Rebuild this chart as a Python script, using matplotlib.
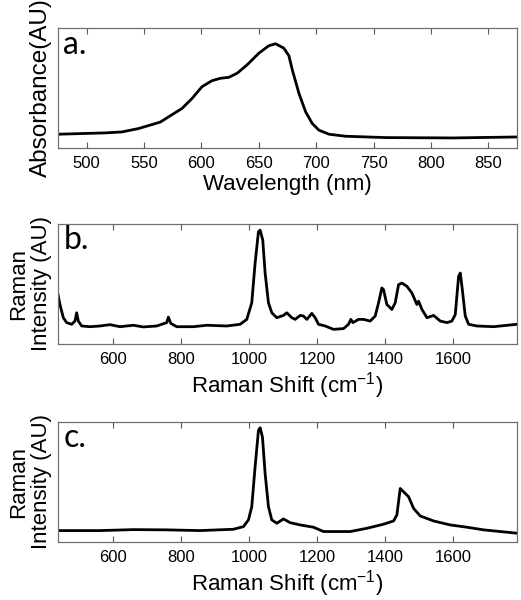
import matplotlib
matplotlib.use("Agg")
import matplotlib.pyplot as plt
import numpy as np

plt.rcParams['font.family'] = ['Liberation Sans', 'DejaVu Sans']
plt.rcParams['mathtext.fontset'] = 'custom'
plt.rcParams['mathtext.rm'] = 'Liberation Sans'
plt.rcParams['mathtext.it'] = 'Liberation Sans:italic'

# a. absorbance spectrum (AU)
wavelength = [475.0, 516.0, 530.6, 545.1, 564.1, 571.4, 583.1, 591.8, 600.5, 609.2,
              616.5, 623.8, 631.1, 639.8, 650.0, 658.7, 664.6, 671.8, 676.2, 679.2,
              685.0, 690.8, 696.6, 702.5, 711.2, 725.8, 760.7, 819.0, 875.0]
absorbance = [0.115, 0.126, 0.134, 0.162, 0.216, 0.260, 0.330, 0.413, 0.511, 0.561,
              0.581, 0.589, 0.623, 0.693, 0.790, 0.852, 0.869, 0.832, 0.770, 0.651,
              0.455, 0.302, 0.204, 0.148, 0.115, 0.098, 0.087, 0.084, 0.092]

# b. raman spectrum (AU)
shift_b = [439.4, 445.2, 455.0, 464.8, 479.5, 489.3, 494.2, 499.1, 508.9, 533.3,
           562.7, 592.1, 621.4, 660.6, 690.0, 729.1, 758.5, 763.4, 770.3, 787.9,
           836.8, 876.0, 934.7, 973.9, 993.5, 1008.1, 1017.9, 1027.7, 1032.6, 1040.4,
           1047.3, 1057.1, 1066.9, 1081.6, 1101.1, 1110.9, 1125.6, 1135.4, 1150.1, 1159.9,
           1169.7, 1184.4, 1194.2, 1204.0, 1223.5, 1248.0, 1277.4, 1292.1, 1298.9, 1304.8,
           1321.4, 1336.1, 1355.7, 1370.4, 1380.2, 1390.0, 1394.8, 1404.6, 1419.3, 1429.1,
           1438.9, 1448.7, 1463.4, 1478.1, 1492.8, 1497.7, 1507.5, 1522.2, 1541.8, 1561.3,
           1580.9, 1595.6, 1605.4, 1615.1, 1620.0, 1624.9, 1634.7, 1644.5, 1669.0, 1718.0,
           1737.6, 1786.5]
raman_b = [0.408, 0.325, 0.215, 0.174, 0.160, 0.187, 0.256, 0.187, 0.146, 0.140,
           0.146, 0.157, 0.140, 0.152, 0.138, 0.146, 0.174, 0.220, 0.168, 0.140,
           0.140, 0.152, 0.146, 0.160, 0.201, 0.339, 0.669, 0.931, 0.945, 0.862,
           0.587, 0.339, 0.256, 0.215, 0.234, 0.256, 0.215, 0.201, 0.234, 0.229,
           0.201, 0.251, 0.215, 0.160, 0.146, 0.118, 0.124, 0.160, 0.201, 0.174,
           0.201, 0.201, 0.187, 0.229, 0.339, 0.463, 0.449, 0.325, 0.284, 0.339,
           0.490, 0.504, 0.477, 0.421, 0.325, 0.353, 0.284, 0.215, 0.234, 0.187,
           0.174, 0.187, 0.242, 0.559, 0.587, 0.477, 0.229, 0.160, 0.146, 0.140,
           0.146, 0.160]

# c. raman spectrum (AU)
shift_c = [439.4, 562.7, 660.6, 758.5, 856.4, 954.3, 983.7, 998.4, 1008.1, 1017.9,
           1027.7, 1032.6, 1039.5, 1047.3, 1057.1, 1066.9, 1081.6, 1101.1, 1120.7, 1150.1,
           1189.3, 1218.6, 1296.9, 1345.9, 1394.8, 1424.2, 1434.0, 1443.8, 1453.6, 1468.3,
           1483.0, 1502.5, 1541.8, 1590.7, 1639.7, 1688.6, 1786.5]
raman_c = [0.091, 0.091, 0.099, 0.097, 0.091, 0.102, 0.124, 0.180, 0.290, 0.622,
           0.925, 0.948, 0.870, 0.566, 0.290, 0.180, 0.152, 0.188, 0.157, 0.138,
           0.119, 0.083, 0.083, 0.110, 0.144, 0.171, 0.221, 0.442, 0.414, 0.373,
           0.276, 0.213, 0.171, 0.138, 0.119, 0.097, 0.069]

raman_ticks = [600, 800, 1000, 1200, 1400, 1600]
raman_label = 'Raman Shift (cm$^{-1}$)'

fig = plt.figure(figsize=(5.21, 6.0), dpi=100)

panels = [
    (wavelength, absorbance, (475, 875), list(range(500, 851, 50)),
     'Wavelength (nm)', 'Absorbance(AU)', 17.5, 'a.', 0.7533),
    (shift_b, raman_b, (439.4, 1786.5), raman_ticks,
     raman_label, 'Raman\nIntensity (AU)', 16, 'b.', 0.4275),
    (shift_c, raman_c, (439.4, 1786.5), raman_ticks,
     raman_label, 'Raman\nIntensity (AU)', 16, 'c.', 0.0975),
]

for x, y, xlim, ticks, xlabel, ylabel, ysize, tag, bottom in panels:
    ax = fig.add_axes([0.1113, bottom, 0.881, 0.2])
    ax.plot(x, y, color='black', lw=2.0)
    ax.set_xlim(*xlim)
    ax.set_ylim(0, 1)
    ax.set_xticks(ticks)
    ax.set_yticks([])
    ax.tick_params(axis='x', direction='in', top=True, length=4, width=0.8,
                   color='#555555', labelsize=12, pad=6)
    for s in ax.spines.values():
        s.set_color('#707070')
        s.set_linewidth(0.9)
    ax.set_xlabel(xlabel, fontsize=16, labelpad=2)
    ax.set_ylabel(ylabel, fontsize=ysize, labelpad=4, linespacing=1.15)
    ax.text(0.012, 0.985, tag, transform=ax.transAxes, ha='left', va='top',
            fontsize=23, family=['Lato', 'DejaVu Sans'])

fig.savefig('out.png', dpi=100)
